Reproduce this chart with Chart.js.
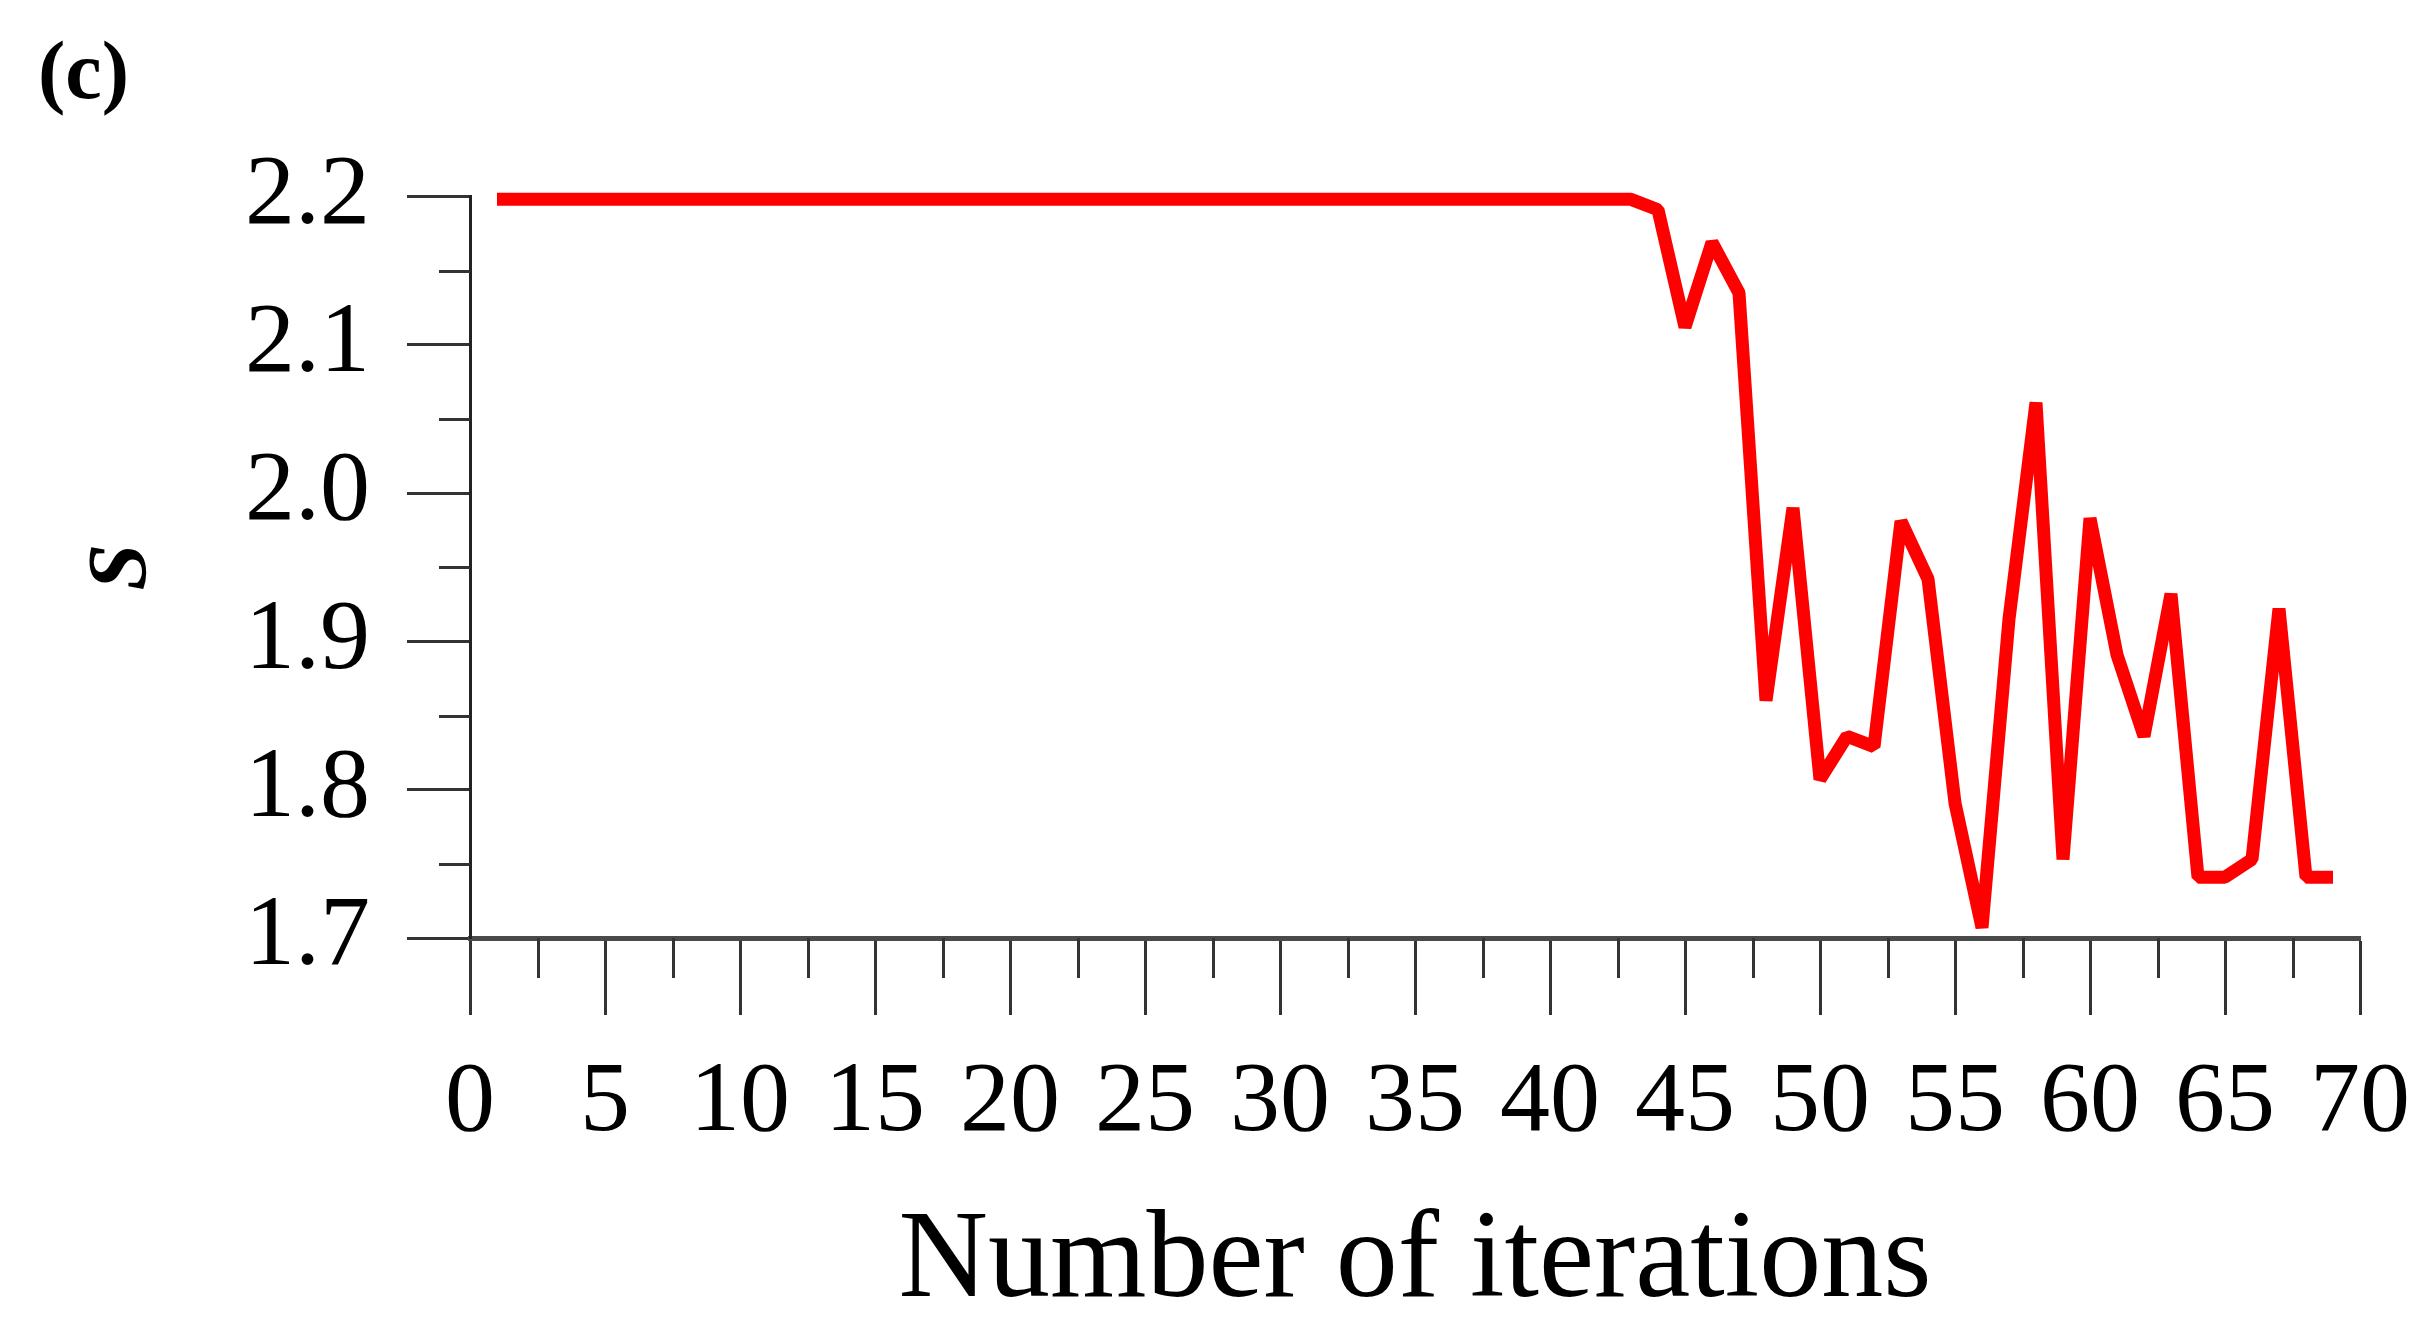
<!DOCTYPE html>
<html lang="en">
  <head>
    <meta charset="UTF-8" />
    <title>S vs number of iterations</title>
    <script src="https://cdn.jsdelivr.net/npm/chart.js"></script>
    <style>
      html,
      body {
        margin: 0;
        padding: 0;
        background: #fff;
      }
      #wrap {
        width: 2422px;
        height: 1328px;
        position: relative;
      }
    </style>
  </head>
  <body>
    <div id="wrap">
      <canvas id="sChart"></canvas>
    </div>
    <script>
      // iteration number (x) and S value (y)
      const iterations = [
        1, 2, 3, 4, 5, 6, 7, 8, 9, 10, 11, 12, 13, 14, 15, 16, 17, 18, 19, 20,
        21, 22, 23, 24, 25, 26, 27, 28, 29, 30, 31, 32, 33, 34, 35, 36, 37, 38,
        39, 40, 41, 42, 43, 44, 45, 46, 47, 48, 49, 50, 51, 52, 53, 54, 55, 56,
        57, 58, 59, 60, 61, 62, 63, 64, 65, 66, 67, 68, 69,
      ];
      const sValues = [
        2.198, 2.198, 2.198, 2.198, 2.198, 2.198, 2.198, 2.198, 2.198, 2.198,
        2.198, 2.198, 2.198, 2.198, 2.198, 2.198, 2.198, 2.198, 2.198, 2.198,
        2.198, 2.198, 2.198, 2.198, 2.198, 2.198, 2.198, 2.198, 2.198, 2.198,
        2.198, 2.198, 2.198, 2.198, 2.198, 2.198, 2.198, 2.198, 2.198, 2.198,
        2.198, 2.198, 2.198, 2.191, 2.112, 2.169, 2.135, 1.86, 1.99, 1.807,
        1.836, 1.829, 1.981, 1.942, 1.791, 1.707, 1.915, 2.061, 1.753, 1.983,
        1.891, 1.836, 1.932, 1.741, 1.741, 1.753, 1.922, 1.741, 1.741,
      ];
      const xMajorTicks = [0, 5, 10, 15, 20, 25, 30, 35, 40, 45, 50, 55, 60, 65, 70];
      const xMinorTicks = [
        2.5, 7.5, 12.5, 17.5, 22.5, 27.5, 32.5, 37.5, 42.5, 47.5, 52.5, 57.5,
        62.5, 67.5,
      ];
      const yMajorTicks = [1.7, 1.8, 1.9, 2.0, 2.1, 2.2];
      const yMinorTicks = [1.75, 1.85, 1.95, 2.05, 2.15];

      const serif = "'Liberation Serif', 'DejaVu Serif', serif";

      // short minor tick marks (Chart.js only has one tick length per axis)
      const minorTicks = {
        id: "minorTicks",
        afterDraw(chart) {
          const ctx = chart.ctx;
          const xs = chart.scales.x;
          const ys = chart.scales.y;
          const area = chart.chartArea;
          ctx.save();
          ctx.strokeStyle = "#333";
          ctx.lineWidth = 3;
          ctx.beginPath();
          xMinorTicks.forEach((v) => {
            const px = Math.round(xs.getPixelForValue(v)) + 0.5;
            ctx.moveTo(px, area.bottom);
            ctx.lineTo(px, area.bottom + 40);
          });
          yMinorTicks.forEach((v) => {
            const py = Math.round(ys.getPixelForValue(v)) + 0.5;
            ctx.moveTo(area.left, py);
            ctx.lineTo(area.left - 31, py);
          });
          ctx.stroke();
          ctx.restore();
        },
      };

      // keep the plot box fixed, labels may hang over the edges
      function noEdgePadding(scale) {
        scale.paddingLeft = 0;
        scale.paddingRight = 0;
        scale.paddingTop = 0;
        scale.paddingBottom = 0;
      }

      const ctx = document.getElementById("sChart").getContext("2d");
      const sChart = new Chart(ctx, {
        type: "line",
        data: {
          datasets: [
            {
              label: "S",
              data: iterations.map((it, i) => ({ x: it, y: sValues[i] })),
              borderColor: "#ff0000",
              backgroundColor: "#ff0000",
              borderWidth: 13,
              borderJoinStyle: "bevel",
              pointRadius: 0,
              tension: 0,
              fill: false,
              clip: false,
            },
          ],
        },
        options: {
          responsive: true,
          maintainAspectRatio: false,
          animation: false,
          layout: {
            padding: { left: 38, right: 62, top: 0, bottom: 0 },
          },
          plugins: {
            legend: { display: false },
            tooltip: { enabled: false },
            title: {
              display: true,
              text: "(c)",
              align: "start",
              color: "#000",
              font: { family: serif, size: 82, weight: "bold", lineHeight: 1.2 },
              padding: { top: 28, bottom: 70 },
            },
          },
          scales: {
            x: {
              type: "linear",
              min: 0,
              max: 70,
              afterBuildTicks: (scale) => {
                scale.ticks = xMajorTicks.map((v) => ({ value: v }));
              },
              afterFit: (scale) => {
                scale.height = 390;
                noEdgePadding(scale);
              },
              grid: {
                drawOnChartArea: false,
                drawTicks: true,
                tickLength: 77,
                tickWidth: 3,
                tickColor: "#333",
              },
              border: { display: true, color: "#4a4a4a", width: 5 },
              ticks: {
                autoSkip: false,
                maxRotation: 0,
                padding: 29,
                color: "#000",
                font: { family: serif, size: 100 },
              },
              title: {
                display: true,
                text: "Number of iterations",
                color: "#000",
                font: { family: serif, size: 124, lineHeight: 1.0 },
                padding: { top: 0, bottom: 3 },
              },
            },
            y: {
              type: "linear",
              min: 1.7,
              max: 2.2,
              afterBuildTicks: (scale) => {
                scale.ticks = yMajorTicks.map((v) => ({ value: v }));
              },
              afterFit: (scale) => {
                scale.width = 432;
                noEdgePadding(scale);
              },
              grid: {
                drawOnChartArea: false,
                drawTicks: true,
                tickLength: 63,
                tickWidth: 3,
                tickColor: "#333",
              },
              border: { display: true, color: "#222", width: 3 },
              ticks: {
                padding: 37,
                color: "#000",
                font: { family: serif, size: 100 },
                callback: (v) => Number(v).toFixed(1),
              },
              title: {
                display: true,
                text: "S",
                color: "#000",
                font: { family: serif, size: 84, style: "italic", weight: "bold" },
                padding: { top: 36, bottom: 0 },
              },
            },
          },
        },
        plugins: [minorTicks],
      });
    </script>
  </body>
</html>
